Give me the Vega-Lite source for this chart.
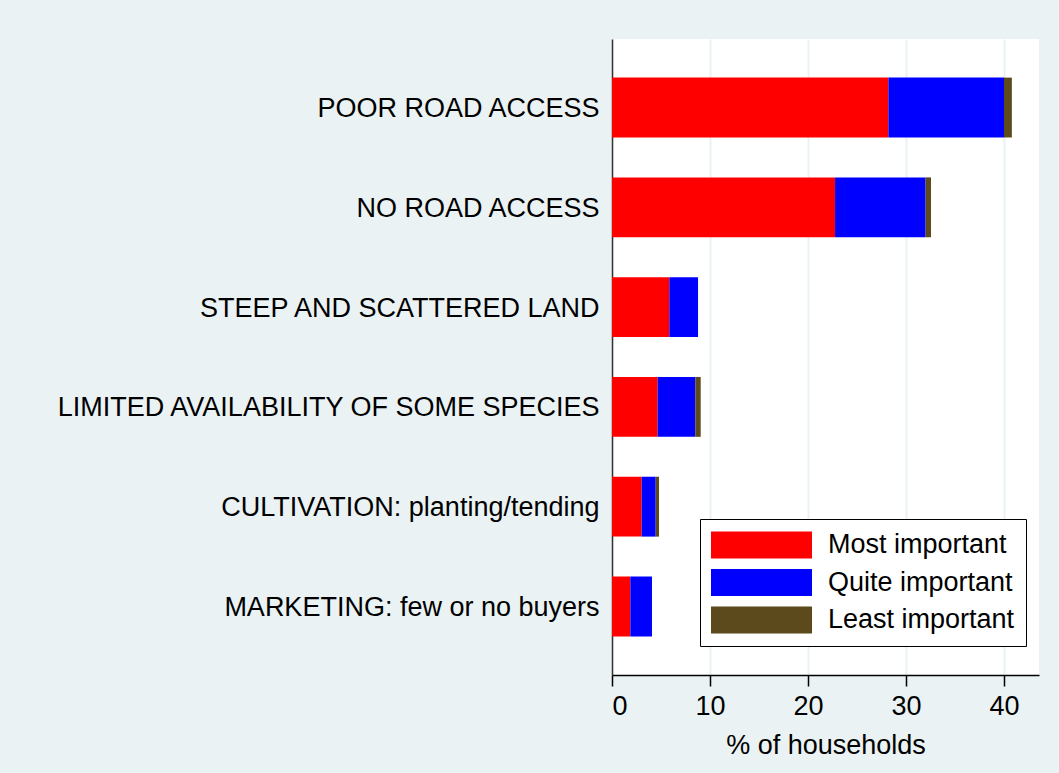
{
  "$schema": "https://vega.github.io/schema/vega-lite/v6.json",
  "width": 427,
  "height": 636,
  "autosize": {"type": "none"},
  "padding": {"left": 612, "top": 39, "right": 20, "bottom": 98},
  "background": "#EAF2F3",
  "view": {"fill": "white", "stroke": null},
  "config": {
    "font": "Liberation Sans",
    "axis": {"labelColor": "black", "titleColor": "black", "labelFont": "Liberation Sans", "titleFont": "Liberation Sans"}
  },
  "data": {
    "values": [
      {"cause": "POOR ROAD ACCESS", "importance": "Most important", "rank": 1, "pct": 28.2},
      {"cause": "POOR ROAD ACCESS", "importance": "Quite important", "rank": 2, "pct": 11.8},
      {"cause": "POOR ROAD ACCESS", "importance": "Least important", "rank": 3, "pct": 0.8},
      {"cause": "NO ROAD ACCESS", "importance": "Most important", "rank": 1, "pct": 22.76},
      {"cause": "NO ROAD ACCESS", "importance": "Quite important", "rank": 2, "pct": 9.24},
      {"cause": "NO ROAD ACCESS", "importance": "Least important", "rank": 3, "pct": 0.55},
      {"cause": "STEEP AND SCATTERED LAND", "importance": "Most important", "rank": 1, "pct": 5.85},
      {"cause": "STEEP AND SCATTERED LAND", "importance": "Quite important", "rank": 2, "pct": 2.93},
      {"cause": "STEEP AND SCATTERED LAND", "importance": "Least important", "rank": 3, "pct": 0},
      {"cause": "LIMITED AVAILABILITY OF SOME SPECIES", "importance": "Most important", "rank": 1, "pct": 4.66},
      {"cause": "LIMITED AVAILABILITY OF SOME SPECIES", "importance": "Quite important", "rank": 2, "pct": 3.84},
      {"cause": "LIMITED AVAILABILITY OF SOME SPECIES", "importance": "Least important", "rank": 3, "pct": 0.55},
      {"cause": "CULTIVATION: planting/tending", "importance": "Most important", "rank": 1, "pct": 3.03},
      {"cause": "CULTIVATION: planting/tending", "importance": "Quite important", "rank": 2, "pct": 1.43},
      {"cause": "CULTIVATION: planting/tending", "importance": "Least important", "rank": 3, "pct": 0.34},
      {"cause": "MARKETING: few or no buyers", "importance": "Most important", "rank": 1, "pct": 1.87},
      {"cause": "MARKETING: few or no buyers", "importance": "Quite important", "rank": 2, "pct": 2.21},
      {"cause": "MARKETING: few or no buyers", "importance": "Least important", "rank": 3, "pct": 0}
    ]
  },
  "mark": {"type": "bar"},
  "encoding": {
    "y": {
      "field": "cause",
      "type": "nominal",
      "sort": null,
      "scale": {"paddingInner": 0.4, "paddingOuter": 0.387},
      "axis": {
        "title": null,
        "ticks": false,
        "labelPadding": 13,
        "labelFontSize": 27,
        "labelLimit": 0,
        "labelOffset": 1.5,
        "domainColor": "#333333",
        "domainWidth": 1.5,
        "grid": false
      }
    },
    "x": {
      "field": "pct",
      "type": "quantitative",
      "stack": "zero",
      "scale": {"domain": [0, 43.57], "nice": false, "zero": true},
      "axis": {
        "title": "% of households",
        "values": [0, 10, 20, 30, 40],
        "labelFontSize": 27,
        "titleFontSize": 27,
        "titleFontWeight": "normal",
        "labelPadding": 7,
        "titlePadding": 13,
        "tickSize": 11,
        "tickColor": "black",
        "domainColor": "black",
        "domainWidth": 1.5,
        "tickWidth": 1.5,
        "grid": true,
        "gridColor": "#EAF2F3",
        "gridWidth": 2
      }
    },
    "color": {
      "field": "importance",
      "type": "nominal",
      "scale": {
        "domain": ["Most important", "Quite important", "Least important"],
        "range": ["#FF0000", "#0000FF", "#5D4A1C"]
      },
      "legend": {
        "title": null,
        "orient": "none",
        "legendX": 88,
        "legendY": 480,
        "symbolType": "M-1,-0.267H1V0.267H-1Z",
        "symbolSize": 10201,
        "symbolStrokeWidth": 0,
        "labelFontSize": 27,
        "labelFont": "Liberation Sans",
        "labelColor": "black",
        "labelOffset": 16,
        "labelLimit": 0,
        "clipHeight": 30,
        "rowPadding": 7.5,
        "padding": 11,
        "strokeColor": "black",
        "fillColor": "white"
      }
    },
    "order": {"field": "rank", "type": "quantitative"}
  }
}
